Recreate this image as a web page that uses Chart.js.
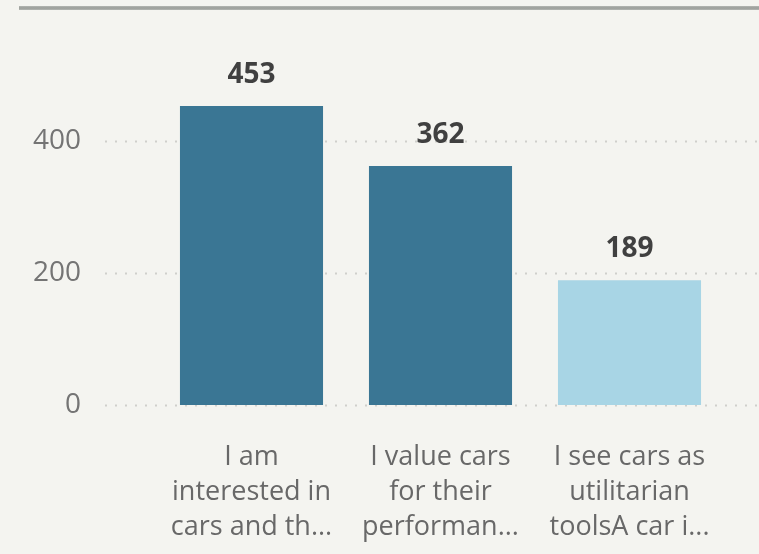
<!DOCTYPE html>
<html>
<head>
<meta charset="utf-8">
<script src="https://cdn.jsdelivr.net/npm/chart.js@4/dist/chart.umd.min.js"></script>
<style>
  html, body { margin: 0; padding: 0; background: #f4f4f0; }
  #wrap { position: relative; width: 759px; height: 554px; overflow: hidden; }
  #topline { position: absolute; left: 19px; top: 6px; width: 740px; height: 4px; background: linear-gradient(#b4b7b3, #9a9d99 50%, #b4b7b3); }
  canvas { position: absolute; left: 0; top: 0; }
</style>
</head>
<body>
<div id="wrap">
  <div id="topline"></div>
  <canvas id="c" width="759" height="554"></canvas>
</div>
<script>
const categories = [
  ["I am", "interested in", "cars and th..."],
  ["I value cars", "for their", "performan..."],
  ["I see cars as", "utilitarian", "toolsA car i..."]
];
const counts = [453, 362, 189];
const barColors = ["#3a7694", "#3a7694", "#a8d5e5"];
const yTicks = [0, 200, 400];

const FONT = "'Open Sans', 'Noto Sans', sans-serif";

const gridPlugin = {
  id: 'dotGrid',
  beforeDatasetsDraw(chart) {
    const ctx = chart.ctx;
    const y = chart.scales.y;
    ctx.save();
    ctx.strokeStyle = '#cfcfcb';
    ctx.lineWidth = 2;
    ctx.setLineDash([2, 8]);
    yTicks.forEach(v => {
      const py = Math.round(y.getPixelForValue(v)) + 0.5;
      ctx.beginPath();
      ctx.moveTo(105, py);
      ctx.lineTo(759, py);
      ctx.stroke();
    });
    ctx.restore();
  }
};

const labelPlugin = {
  id: 'barLabels',
  afterDatasetsDraw(chart) {
    const ctx = chart.ctx;
    const meta = chart.getDatasetMeta(0);
    ctx.save();
    ctx.font = "bold 28px " + FONT;
    ctx.fillStyle = '#404040';
    ctx.textAlign = 'center';
    ctx.textBaseline = 'alphabetic';
    meta.data.forEach((el, i) => {
      ctx.fillText(String(counts[i]), el.x, el.y - 23);
    });
    ctx.restore();
  }
};

new Chart(document.getElementById('c'), {
  type: 'bar',
  data: {
    labels: categories,
    datasets: [{
      data: counts,
      backgroundColor: barColors,
      borderWidth: 0,
      categoryPercentage: 1.0,
      barPercentage: 0.757
    }]
  },
  options: {
    responsive: false,
    animation: false,
    events: [],
    layout: { padding: { top: 75, right: 35, left: 0, bottom: 0 } },
    plugins: { legend: { display: false }, tooltip: { enabled: false } },
    scales: {
      x: {
        grid: { display: false, drawTicks: false },
        border: { display: false },
        ticks: {
          color: '#686868',
          font: { family: FONT, size: 27, lineHeight: 1.3 },
          padding: 35,
          maxRotation: 0,
          autoSkip: false
        },
        afterFit(scale) { scale.height = 149; }
      },
      y: {
        min: 0,
        max: 500,
        grid: { display: false, drawTicks: false },
        border: { display: false },
        afterBuildTicks(scale) { scale.ticks = yTicks.map(v => ({ value: v })); },
        ticks: {
          color: '#747474',
          font: { family: FONT, size: 28 },
          padding: 76
        },
        afterFit(scale) {
          scale.width = 157;
          scale.paddingTop = 0;
          scale.paddingBottom = 0;
        }
      }
    }
  },
  plugins: [gridPlugin, labelPlugin]
});
</script>
</body>
</html>
